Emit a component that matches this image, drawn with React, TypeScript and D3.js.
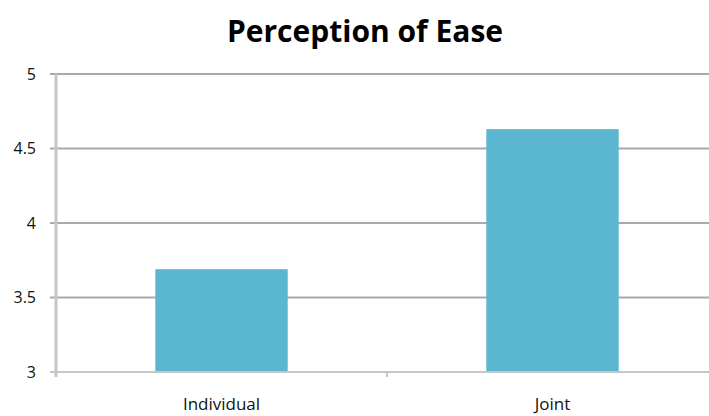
import React, { useRef, useEffect } from 'react';
import * as d3 from 'd3';

const categories = ['Individual', 'Joint'];
const values = [3.69, 4.63];
const yTicks = [3, 3.5, 4, 4.5, 5];
const chartTitle = 'Perception of Ease';

const W = 709;
const H = 416;

const App: React.FC = () => {
  const svgRef = useRef<SVGSVGElement>(null);

  useEffect(() => {
    if (!svgRef.current) return;
    const svg = d3.select(svgRef.current);
    svg.selectAll('*').remove();

    const margin = { top: 74, left: 56, bottom: 44 };
    const plotRight = 718;
    const innerH = H - margin.top - margin.bottom;

    const x = d3.scaleBand<string>()
      .domain(categories)
      .range([margin.left, plotRight])
      .paddingInner(0)
      .paddingOuter(0);

    const y = d3.scaleLinear()
      .domain([3, 5])
      .range([margin.top + innerH, margin.top]);

    const font = '"Open Sans", "Noto Sans", sans-serif';

    // Title
    svg.append('text')
      .attr('x', 365)
      .attr('y', 42)
      .attr('text-anchor', 'middle')
      .style('font-family', font)
      .style('font-weight', 'bold')
      .style('font-size', '30px')
      .style('fill', '#000')
      .text(chartTitle);

    // Grid lines
    svg.append('g')
      .selectAll('line')
      .data(yTicks.filter(t => t !== 3))
      .join('line')
      .attr('x1', margin.left - 6)
      .attr('x2', W)
      .attr('y1', d => y(d))
      .attr('y2', d => y(d))
      .style('stroke', '#a9a9a9')
      .style('stroke-width', 2);

    // Y tick labels
    svg.append('g')
      .selectAll('text')
      .data(yTicks)
      .join('text')
      .attr('x', 36)
      .attr('y', d => y(d))
      .attr('dy', '0.36em')
      .attr('text-anchor', 'end')
      .style('font-family', font)
      .style('font-size', '16px')
      .style('fill', '#111')
      .text(d => String(d));

    // Bars
    const barW = x.bandwidth() * 0.4;
    svg.append('g')
      .selectAll('rect')
      .data(values)
      .join('rect')
      .attr('x', (d, i) => x(categories[i])! + (x.bandwidth() - barW) / 2)
      .attr('y', d => y(d))
      .attr('width', barW)
      .attr('height', d => y(3) - y(d))
      .style('fill', '#5bb7cf');

    // Axes
    svg.append('line')
      .attr('x1', margin.left - 6)
      .attr('x2', W)
      .attr('y1', y(3))
      .attr('y2', y(3))
      .style('stroke', '#c6c6c6')
      .style('stroke-width', 2);

    svg.append('line')
      .attr('x1', margin.left)
      .attr('x2', margin.left)
      .attr('y1', y(5))
      .attr('y2', y(3) + 5)
      .style('stroke', '#c6c6c6')
      .style('stroke-width', 3);

    // Category separator tick
    svg.append('line')
      .attr('x1', x(categories[1])!)
      .attr('x2', x(categories[1])!)
      .attr('y1', y(3))
      .attr('y2', y(3) + 5)
      .style('stroke', '#c6c6c6')
      .style('stroke-width', 2);

    // X labels
    svg.append('g')
      .selectAll('text')
      .data(categories)
      .join('text')
      .attr('x', d => x(d)! + x.bandwidth() / 2)
      .attr('y', 410)
      .attr('text-anchor', 'middle')
      .style('font-family', font)
      .style('font-size', '17px')
      .style('fill', '#111')
      .text(d => d);
  }, []);

  return (
    <svg
      ref={svgRef}
      width={W}
      height={H}
      style={{ position: 'absolute', left: 0, top: 0, background: '#fff' }}
    />
  );
};

export default App;
